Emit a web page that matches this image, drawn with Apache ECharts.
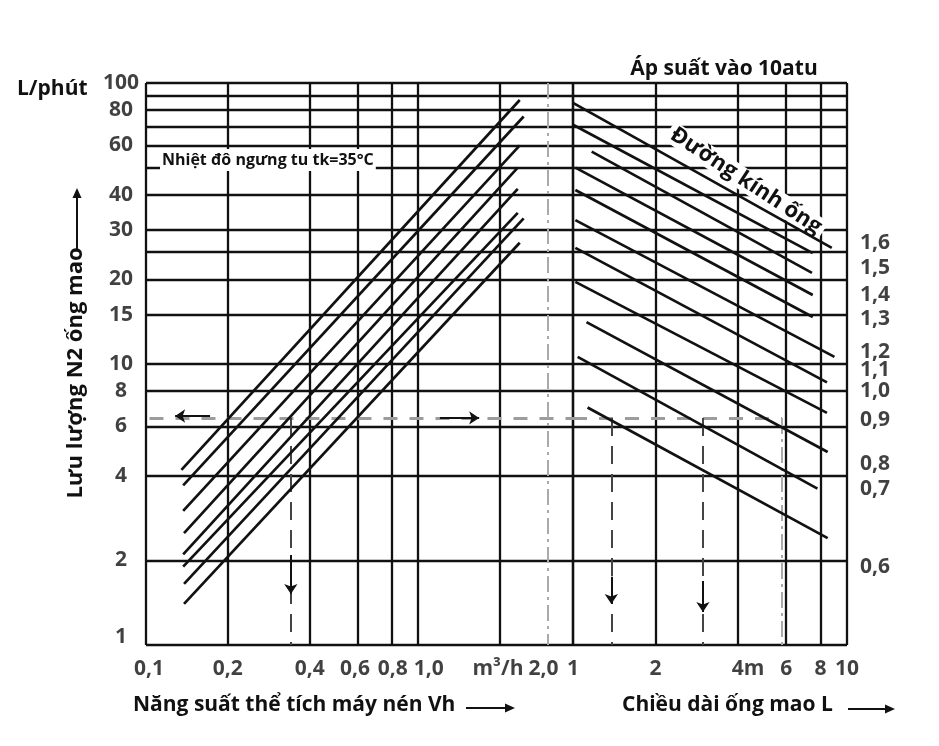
<!DOCTYPE html>
<html><head><meta charset="utf-8">
<script src="https://cdn.jsdelivr.net/npm/echarts@6/dist/echarts.min.js"></script>
<style>html,body{margin:0;padding:0;background:#fff}#c{width:939px;height:746px}</style>
</head><body><div id="c"></div>
<script>
// ---- data ----
const yGridValues = [1, 2, 4, 6, 8, 10, 15, 20, 25, 30, 40, 50, 60, 70, 80, 90, 100];
const yTickLabels = ['100', '80', '60', '40', '30', '20', '15', '10', '8', '6', '4', '2', '1'];
const yTickValues = [100, 80, 60, 40, 30, 20, 15, 10, 8, 6, 4, 2, 1.07];
const vhGridValues = [0.1, 0.2, 0.4, 0.6, 0.8, 1.0, 2.0, 3.72];
const lenGridValues = [1, 2, 4, 6, 8, 10];
const vhTickLabels = ['0,1', '0,2', '0,4', '0,6', '0,8', '1,0', 'm³/h', '2,0'];
const vhTickValues = [0.1025, 0.2, 0.4, 0.587, 0.809, 1.097, 1.97, 2.9];
const lenTickLabels = ['1', '2', '4m', '6', '8', '10'];
const lenTickValues = [1.0, 2, 4.35, 6, 8, 10];
// Left family (Vh -> Q)
const vhLineStart = [[0.135, 4.2], [0.137, 3.7], [0.137, 3.0], [0.138, 2.5], [0.137, 2.1], [0.137, 1.9], [0.138, 1.65], [0.138, 1.4]];
const vhLineEnd = [[2.37, 87], [2.45, 76], [2.37, 60], [2.33, 50], [2.33, 42], [2.33, 34.5], [2.45, 33], [2.37, 27]];
// Right family (L -> Q), diameters 1,6 ... 0,6
const diameterLabels = ['1,6', '1,5', '1,4', '1,3', '1,2', '1,1', '1,0', '0,9', '0,8', '0,7', '0,6'];
const diameterLabelQ = [27.0, 22.0, 17.6, 14.4, 11.0, 9.5, 8.0, 6.3, 4.4, 3.6, 1.9];
const lenLineStart = [[1.0, 85], [1.0, 71], [1.17, 57], [1.02, 50], [1.02, 41.6], [1.02, 32.5], [1.02, 25.9], [1.02, 19.6], [1.12, 14.1], [1.04, 10.6], [1.13, 7.0]];
const lenLineEnd = [[8.8, 25.9], [7.5, 24.8], [7.45, 21.1], [7.5, 17.6], [7.5, 14.7], [9.0, 10.6], [8.45, 8.6], [8.45, 6.7], [8.5, 4.86], [7.8, 3.6], [8.5, 2.4]];
// Example reading (dashed construction)
const exampleQ = 6.43;
const exampleVh = 0.341;
const exampleVhDashDot = 3.0;
const exampleLen = [1.38, 2.98];
const exampleLenDashDot = 5.79;
const exampleStartVh = 0.103;

const FONT = "'Open Sans', 'Noto Sans', sans-serif";
const INK = '#111';

const chart = echarts.init(document.getElementById('c'), null, {renderer: 'canvas'});

const gridLineStyle = {color: INK, width: 2.3, type: 'solid'};
function gridMark(xs) {
  return {
    silent: true, symbol: 'none', z: 1, animation: false,
    label: {show: false}, emphasis: {disabled: true},
    lineStyle: gridLineStyle,
    data: [...yGridValues.map(v => ({yAxis: v})), ...xs.map(v => ({xAxis: v}))]
  };
}
function seg(a, b, style) {
  const s = [{coord: a}, {coord: b}];
  if (style) s[0].lineStyle = style;
  return s;
}
const grayDash = {color: '#9c9c9c', width: 3, type: [14, 12]};
const darkDash = {color: '#444', width: 2, type: [18, 10]};
const dashDot = {color: '#aaa', width: 2, type: [16, 5, 3, 5]};

const series = [];
series.push({type: 'line', xAxisIndex: 0, yAxisIndex: 0, data: [[0.1, 1]], showSymbol: false, lineStyle: {opacity: 0}, markLine: gridMark(vhGridValues), z: 1});
series.push({type: 'line', xAxisIndex: 1, yAxisIndex: 1, data: [[1, 1]], showSymbol: false, lineStyle: {opacity: 0}, markLine: gridMark(lenGridValues), z: 1});

vhLineStart.forEach((s, i) => series.push({
  type: 'line', xAxisIndex: 0, yAxisIndex: 0, data: [s, vhLineEnd[i]], symbol: 'none',
  lineStyle: {color: INK, width: 2.7}, z: 10, silent: true, animation: false
}));
lenLineStart.forEach((s, i) => series.push({
  type: 'line', xAxisIndex: 1, yAxisIndex: 1, data: [s, lenLineEnd[i]], symbol: 'none',
  lineStyle: {color: INK, width: 2.7}, z: 10, silent: true, animation: false
}));

// dashed construction lines
series.push({type: 'line', xAxisIndex: 0, yAxisIndex: 0, data: [], markLine: {
  silent: true, symbol: 'none', z: 6, animation: false, label: {show: false},
  data: [
    seg([exampleStartVh, exampleQ], [3.72, exampleQ], grayDash),
    seg([exampleVh, exampleQ], [exampleVh, 1], darkDash),
    seg([exampleVhDashDot, 100], [exampleVhDashDot, 1], dashDot)
  ]
}});
series.push({type: 'line', xAxisIndex: 1, yAxisIndex: 1, data: [], markLine: {
  silent: true, symbol: 'none', z: 6, animation: false, label: {show: false},
  data: [
    seg([1, exampleQ], [exampleLenDashDot, exampleQ], grayDash),
    ...exampleLen.map(L => seg([L, exampleQ], [L, 1], darkDash)),
    seg([exampleLenDashDot, exampleQ], [exampleLenDashDot, 1], dashDot)
  ]
}});
// arrows
const arrowMark = (data) => ({
  silent: true, symbol: ['none', 'arrow'], symbolSize: 10, z: 12, animation: false,
  label: {show: false}, lineStyle: {color: INK, width: 2, type: 'solid'},
  itemStyle: {color: INK}, data
});
series.push({type: 'line', xAxisIndex: 0, yAxisIndex: 0, data: [], markLine: arrowMark([
  seg([0.172, 6.53], [0.128, 6.53]),
  seg([1.205, 6.43], [1.68, 6.43]),
  seg([exampleVh, 2.09], [exampleVh, 1.52])
])});
series.push({type: 'line', xAxisIndex: 1, yAxisIndex: 1, data: [], markLine: arrowMark([
  seg([exampleLen[0], 1.75], [exampleLen[0], 1.40]),
  seg([exampleLen[1], 1.69], [exampleLen[1], 1.31])
])});

// tick labels
const lblStyle = {fontFamily: FONT, fontWeight: 'bold', fontSize: 21, color: INK};
series.push({type: 'scatter', xAxisIndex: 0, yAxisIndex: 0, symbolSize: 0, silent: true, z: 20,
  data: yTickValues.map((v, i) => ({value: [0.1, v], name: yTickLabels[i]})),
  label: Object.assign({show: true, position: 'inside', offset: [-25, 0], formatter: p => p.name}, lblStyle)});
series.push({type: 'scatter', xAxisIndex: 0, yAxisIndex: 0, symbolSize: 0, silent: true, z: 20,
  data: vhTickValues.map((v, i) => ({value: [v, 1], name: vhTickLabels[i]})),
  label: Object.assign({show: true, position: 'inside', offset: [0, 24], formatter: p => p.name}, lblStyle)});
series.push({type: 'scatter', xAxisIndex: 1, yAxisIndex: 1, symbolSize: 0, silent: true, z: 20,
  data: lenTickValues.map((v, i) => ({value: [v, 1], name: lenTickLabels[i]})),
  label: Object.assign({show: true, position: 'inside', offset: [0, 24], formatter: p => p.name}, lblStyle)});
series.push({type: 'scatter', xAxisIndex: 1, yAxisIndex: 1, symbolSize: 0, silent: true, z: 20,
  data: diameterLabelQ.map((v, i) => ({value: [10, v], name: diameterLabels[i]})),
  label: Object.assign({show: true, position: 'inside', offset: [28, 0], formatter: p => p.name}, lblStyle)});

function arrowGraphic(x1, y1, x2, y2) {
  const ang = Math.atan2(y2 - y1, x2 - x1), h = 10, w = 4.5;
  const bx = x2 - h * Math.cos(ang), by = y2 - h * Math.sin(ang);
  return [
    {type: 'line', shape: {x1, y1, x2: bx, y2: by}, style: {stroke: INK, lineWidth: 2}, z: 20},
    {type: 'polygon', shape: {points: [[x2, y2], [bx + w * Math.sin(ang), by - w * Math.cos(ang)], [bx - w * Math.sin(ang), by + w * Math.cos(ang)]]}, style: {fill: INK}, z: 20}
  ];
}
const tstyle = (text, size, extra) => Object.assign({text, fontFamily: FONT, fontWeight: 'bold', fontSize: size, fill: INK}, extra || {});

const graphic = [
  {type: 'text', x: 17, y: 89, z: 20, style: tstyle('L/phút', 21, {verticalAlign: 'middle'})},
  {type: 'text', x: 724, y: 69, z: 20, style: tstyle('Áp suất vào 10atu', 21, {align: 'center', verticalAlign: 'middle'})},
  {type: 'text', x: 160, y: 160, z: 8, style: tstyle('Nhiệt đô ngưng tu tk=35°C', 16, {verticalAlign: 'middle', backgroundColor: '#fff', padding: [3, 2, 3, 2]})},
  {type: 'text', x: 746, y: 181, rotation: -0.58, z: 8, style: tstyle('Đường kính ống', 22, {align: 'center', verticalAlign: 'middle', backgroundColor: '#fff', padding: [0, 4, 0, 4]})},
  {type: 'text', x: 76, y: 373, rotation: Math.PI / 2, z: 20, style: tstyle('Lưu lượng N2 ống mao', 22, {align: 'center', verticalAlign: 'middle'})},
  {type: 'text', x: 133, y: 705, z: 20, style: tstyle('Năng suất thể tích máy nén Vh', 21, {verticalAlign: 'middle'})},
  {type: 'text', x: 622, y: 705, z: 20, style: tstyle('Chiều dài ống mao L', 21, {verticalAlign: 'middle'})},
  ...arrowGraphic(77, 250, 77, 188),
  ...arrowGraphic(466, 708, 515, 708),
  ...arrowGraphic(848, 709, 895, 709)
];

chart.setOption({
  animation: false,
  backgroundColor: '#fff',
  grid: [
    {left: 146, top: 83, width: 427, height: 562},
    {left: 573, top: 83, width: 274, height: 562}
  ],
  xAxis: [
    {type: 'log', gridIndex: 0, min: 0.1, max: 3.72, show: false},
    {type: 'log', gridIndex: 1, min: 1, max: 10, show: false}
  ],
  yAxis: [
    {type: 'log', gridIndex: 0, min: 1, max: 100, show: false},
    {type: 'log', gridIndex: 1, min: 1, max: 100, show: false}
  ],
  series,
  graphic
});
</script>
</body></html>
